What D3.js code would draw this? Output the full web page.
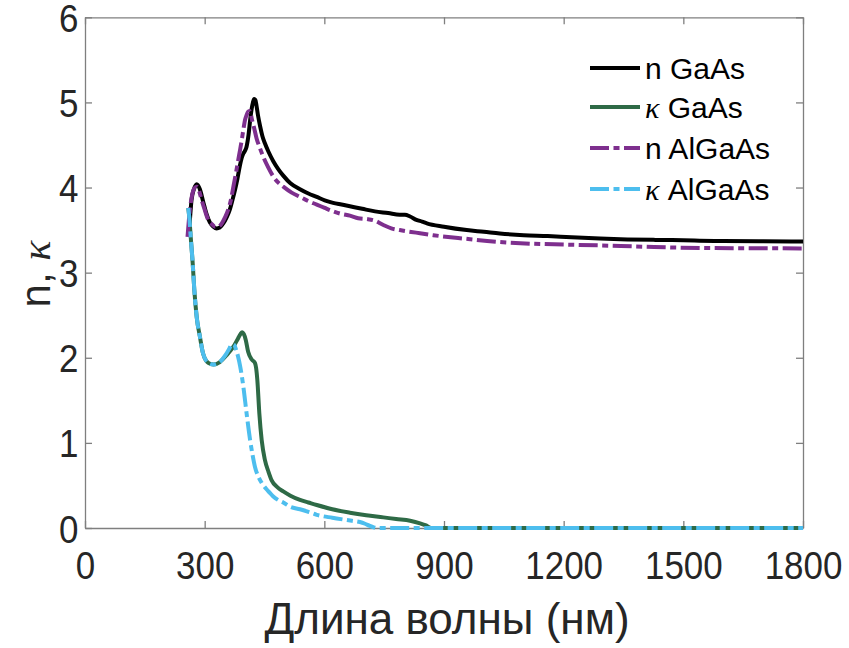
<!DOCTYPE html>
<html><head><meta charset="utf-8">
<script src="https://cdn.jsdelivr.net/npm/d3@7"></script>
<style>
html,body{margin:0;padding:0;background:#fff;}
svg{display:block;}
</style>
</head><body>
<svg id="chart" width="849" height="648"></svg>
<script>
// ---- data ----
const xTicks = [0, 300, 600, 900, 1200, 1500, 1800];
const yTicks = [0, 1, 2, 3, 4, 5, 6];
const seriesNames = ["n GaAs", "\u03ba GaAs", "n AlGaAs", "\u03ba AlGaAs"];
const seriesColors = ["#000000", "#2e6a46", "#7e2f8e", "#4dbeee"];
const seriesDashed = [false, false, true, true];

const nGaAsWl  = [262, 267, 273, 280, 288, 296, 304, 313, 322, 330, 338, 347, 355, 363, 370, 376, 382, 388, 393, 397, 401, 405, 410, 414, 418, 421, 424, 427, 430, 434, 439, 445, 451, 460, 472, 484, 497, 515, 539, 560, 581, 601, 622, 643, 664, 695, 727, 760, 789, 802, 815, 831, 845, 857, 900, 957, 1000, 1040, 1100, 1160, 1220, 1291, 1360, 1430, 1500, 1541, 1600, 1700, 1792, 1800];
const nGaAsVal = [3.55, 3.85, 3.98, 4.04, 3.98, 3.84, 3.70, 3.59, 3.54, 3.52, 3.53, 3.58, 3.65, 3.74, 3.86, 3.97, 4.10, 4.25, 4.35, 4.40, 4.43, 4.48, 4.62, 4.79, 4.93, 5.00, 5.04, 5.03, 4.96, 4.84, 4.72, 4.60, 4.52, 4.42, 4.31, 4.22, 4.14, 4.05, 3.98, 3.93, 3.89, 3.85, 3.82, 3.80, 3.78, 3.75, 3.72, 3.70, 3.68, 3.68, 3.66, 3.62, 3.60, 3.58, 3.54, 3.50, 3.48, 3.46, 3.44, 3.43, 3.415, 3.40, 3.39, 3.385, 3.38, 3.376, 3.372, 3.368, 3.365, 3.365];

const kGaAsWl  = [259, 262, 265, 270, 274, 280, 288, 296, 309, 322, 338, 355, 372, 384, 390, 394, 398, 403, 409, 418, 426, 429, 432, 437, 443, 451, 460, 468, 482, 497, 515, 539, 560, 581, 620, 664, 705, 748, 780, 815, 840, 855, 868, 900, 1000, 1200, 1400, 1600, 1800];
const kGaAsVal = [3.76, 3.62, 3.42, 3.11, 2.80, 2.48, 2.25, 2.05, 1.94, 1.92, 1.95, 2.03, 2.13, 2.23, 2.28, 2.30, 2.28, 2.21, 2.07, 1.98, 1.94, 1.88, 1.74, 1.35, 1.03, 0.80, 0.66, 0.56, 0.48, 0.43, 0.38, 0.33, 0.30, 0.27, 0.22, 0.18, 0.15, 0.125, 0.105, 0.085, 0.055, 0.03, 0.0, 0.0, 0.0, 0.0, 0.0, 0.0, 0.0];

const nAlGaAsWl  = [257, 262, 268, 274, 280, 286, 292, 300, 309, 318, 326, 334, 343, 351, 359, 366, 372, 378, 384, 389, 393, 397, 401, 405, 409, 412, 415, 418, 424, 430, 438, 447, 459, 472, 484, 497, 518, 539, 560, 581, 601, 622, 643, 664, 685, 706, 727, 748, 768, 789, 830, 873, 950, 1040, 1120, 1200, 1291, 1400, 1541, 1650, 1792, 1800];
const nAlGaAsVal = [3.42, 3.70, 3.90, 3.99, 4.01, 3.96, 3.86, 3.74, 3.62, 3.57, 3.54, 3.54, 3.58, 3.65, 3.74, 3.86, 4.01, 4.16, 4.32, 4.45, 4.56, 4.68, 4.79, 4.85, 4.89, 4.90, 4.88, 4.81, 4.70, 4.58, 4.47, 4.36, 4.24, 4.13, 4.06, 4.01, 3.94, 3.89, 3.84, 3.80, 3.76, 3.72, 3.69, 3.67, 3.64, 3.63, 3.61, 3.56, 3.52, 3.50, 3.47, 3.44, 3.40, 3.36, 3.34, 3.33, 3.32, 3.305, 3.29, 3.287, 3.285, 3.285];

const kAlGaAsWl  = [259, 262, 265, 270, 274, 280, 288, 296, 309, 322, 338, 352, 362, 368, 374, 379, 384, 389, 397, 405, 414, 420, 426, 434, 443, 454, 464, 472, 484, 497, 514, 539, 560, 581, 620, 647, 669, 689, 702, 714, 724, 731, 800, 1000, 1200, 1400, 1600, 1800];
const kAlGaAsVal = [3.76, 3.62, 3.42, 3.11, 2.80, 2.48, 2.25, 2.05, 1.94, 1.92, 1.95, 2.03, 2.11, 2.16, 2.15, 2.09, 2.01, 1.90, 1.66, 1.35, 1.03, 0.86, 0.72, 0.61, 0.53, 0.46, 0.41, 0.37, 0.33, 0.30, 0.25, 0.22, 0.19, 0.155, 0.12, 0.10, 0.085, 0.07, 0.05, 0.025, 0.008, 0.0, 0.0, 0.0, 0.0, 0.0, 0.0, 0.0];

const xTitle = "Длина волны (нм)";

// ---- drawing ----
const svg = d3.select("#chart");
const FONT = "'Liberation Sans', Arial, Helvetica, sans-serif";
const SERIF = "'Liberation Serif', 'Times New Roman', serif";
const TXT = "#262626";
const AX = "#7f7f7f";
const L = 85, R = 803, T = 17.3, B = 528;
const x = d3.scaleLinear().domain([0, 1800]).range([L, R]);
const y = d3.scaleLinear().domain([0, 6]).range([B, T]);

// axes (box with inward ticks)
const gB = svg.append("g").attr("transform", `translate(0,${B})`)
  .call(d3.axisBottom(x).tickValues(xTicks).tickSizeInner(-7).tickSizeOuter(0).tickPadding(24).tickFormat(d3.format("d")));
const gT = svg.append("g").attr("transform", `translate(0,${T})`)
  .call(d3.axisTop(x).tickValues(xTicks).tickSizeInner(-7).tickSizeOuter(0).tickFormat(""));
const gL = svg.append("g").attr("transform", `translate(${L},0)`)
  .call(d3.axisLeft(y).tickValues(yTicks).tickSizeInner(-7).tickSizeOuter(0).tickPadding(7).tickFormat(d3.format("d")));
const gR = svg.append("g").attr("transform", `translate(${R},0)`)
  .call(d3.axisRight(y).tickValues(yTicks).tickSizeInner(-7).tickSizeOuter(0).tickFormat(""));
[gB, gT, gL, gR].forEach(g => {
  g.selectAll(".domain").attr("stroke", AX).attr("stroke-width", 1.3);
  g.selectAll(".tick line").attr("stroke", AX).attr("stroke-width", 1.3);
  g.selectAll("text").attr("fill", TXT).attr("font-family", FONT).attr("font-size", 38)
    .attr("transform", "scale(0.92,1)");
});
gB.selectAll(".tick text").attr("dy", "0.71em");
gL.selectAll(".tick text").attr("dy", "0.37em");

// series lines
const series = [
  {wl: nGaAsWl, v: nGaAsVal},
  {wl: kGaAsWl, v: kGaAsVal},
  {wl: nAlGaAsWl, v: nAlGaAsVal},
  {wl: kAlGaAsWl, v: kAlGaAsVal}
];
const DASH = "19,4.5,6,4.5";
const line = d3.line().x(d => x(d[0])).y(d => y(d[1])).curve(d3.curveMonotoneX);
const plot = svg.append("g");
series.forEach((s, i) => {
  const pts = s.wl.map((w, j) => [w, s.v[j]]);
  plot.append("path").datum(pts)
    .attr("d", line)
    .attr("fill", "none")
    .attr("stroke", seriesColors[i])
    .attr("stroke-width", 4)
    .attr("stroke-linejoin", "round")
    .attr("stroke-dasharray", seriesDashed[i] ? DASH : null);
});

// legend
const legRows = [68, 107, 148, 189];
const lg = svg.append("g");
seriesNames.forEach((name, i) => {
  const ry = legRows[i];
  lg.append("line").attr("x1", 590).attr("x2", 640).attr("y1", ry).attr("y2", ry)
    .attr("stroke", seriesColors[i]).attr("stroke-width", 4)
    .attr("stroke-dasharray", seriesDashed[i] ? DASH : null);
  const t = lg.append("text").attr("x", 645).attr("y", ry + 11)
    .attr("font-family", FONT).attr("font-size", 30).attr("fill", "#000");
  const first = name.charAt(0), rest = name.slice(1);
  if (first === "\u03ba") {
    t.append("tspan").attr("font-family", SERIF).attr("font-style", "italic").text(first);
  } else {
    t.append("tspan").text(first);
  }
  t.append("tspan").text(rest);
});

// axis titles
svg.append("text").attr("x", 447).attr("y", 634)
  .attr("text-anchor", "middle").attr("font-family", FONT).attr("font-size", 44)
  .attr("fill", TXT).text(xTitle);
const yt = svg.append("text").attr("transform", "translate(50,274) rotate(-90)")
  .attr("text-anchor", "middle").attr("font-family", FONT).attr("font-size", 42).attr("fill", TXT);
yt.append("tspan").text("n,\u00a0");
yt.append("tspan").attr("font-family", SERIF).attr("font-style", "italic").text("\u03ba");
</script>
</body></html>
